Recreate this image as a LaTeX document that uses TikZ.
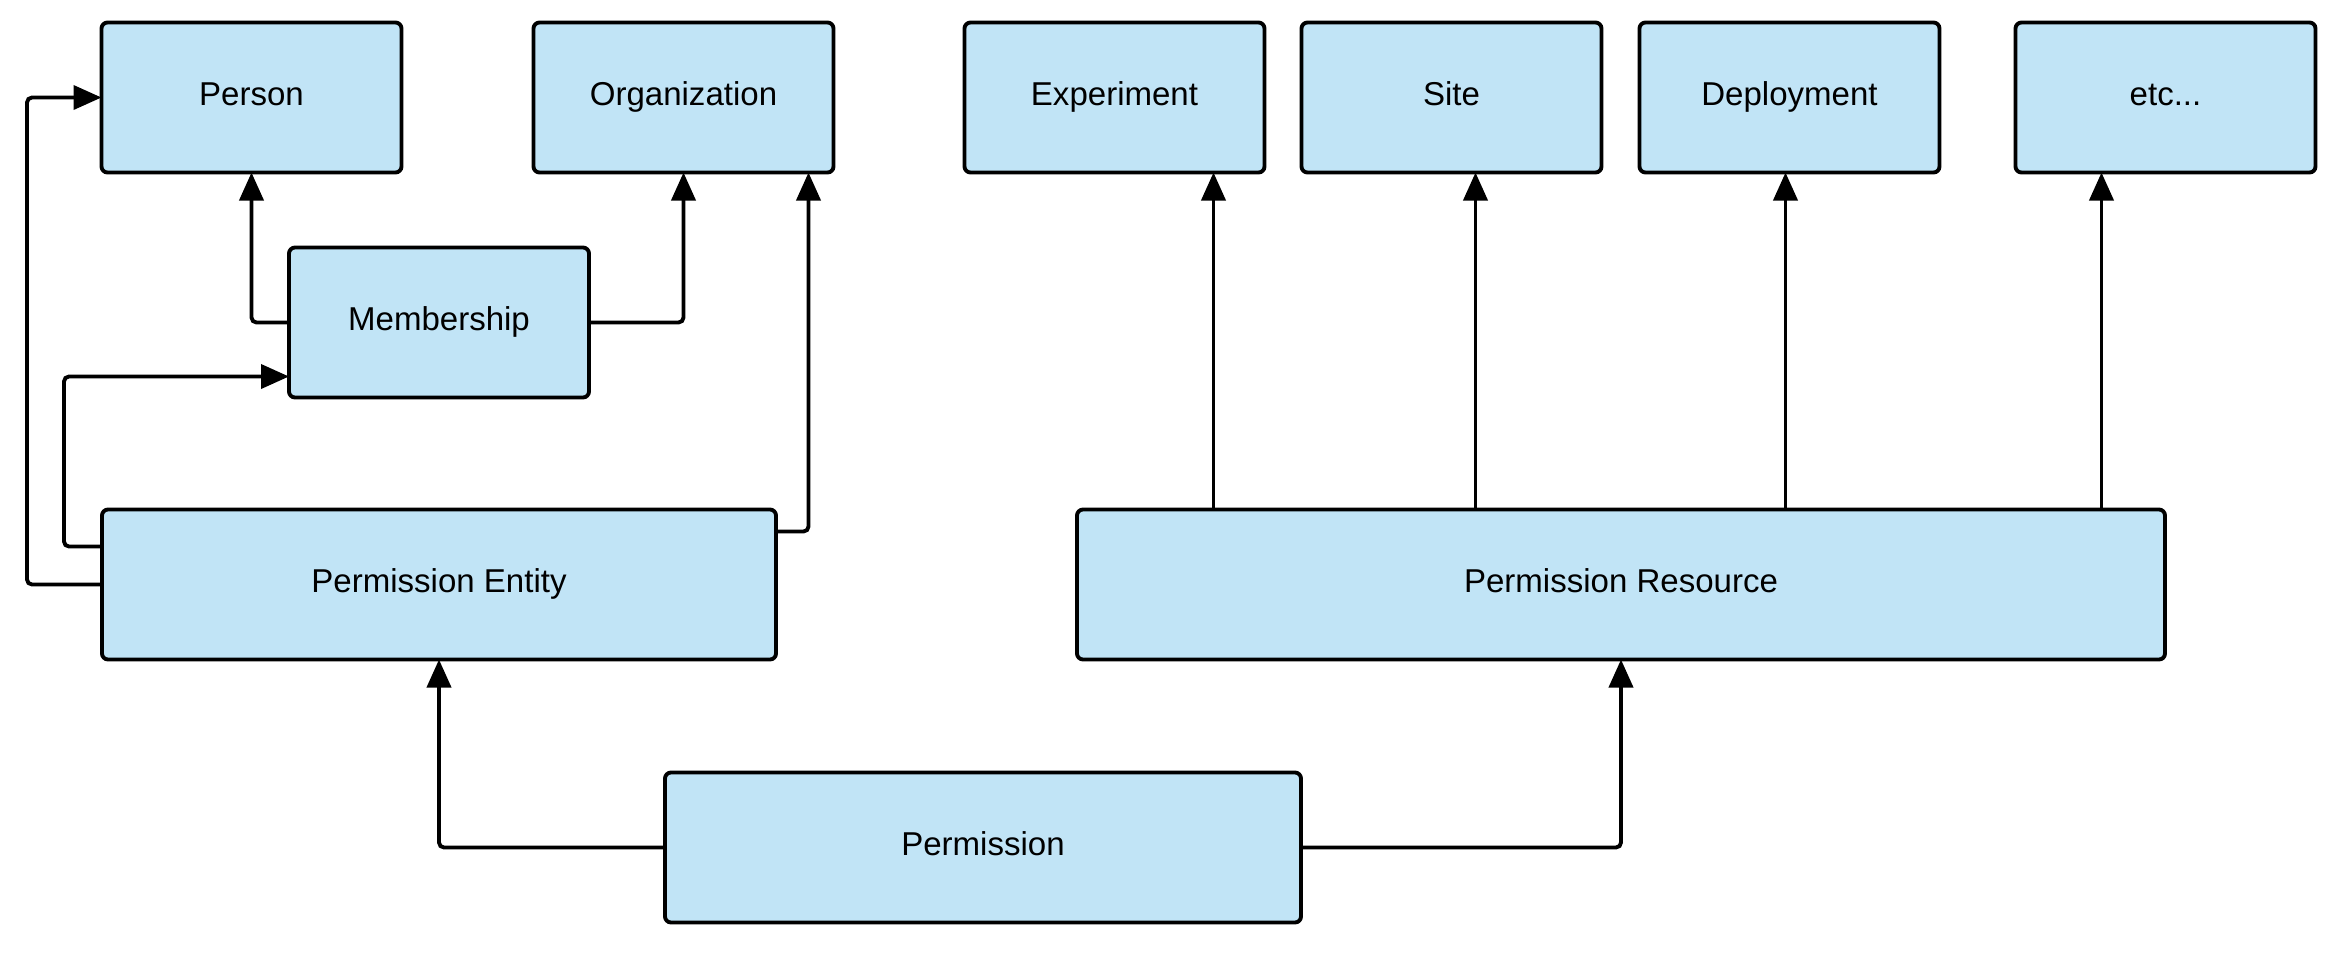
\documentclass[tikz,border=0pt]{standalone}
\usepackage{fontspec}
\setmainfont{Liberation Sans}
\usepackage{xcolor}
\usepackage{tikz}
\usetikzlibrary{positioning,calc,arrows.meta}

\definecolor{boxblue}{RGB}{193,228,246}

\begin{document}
\begin{tikzpicture}[auto, node distance=1.3cm,
    entbox/.style={draw, line width=1.1pt, fill=boxblue, rounded corners=0.6mm,
        minimum width=3cm, minimum height=1.5cm, inner sep=0pt, outer sep=0pt,
        text height=0.23cm, text depth=0.08cm,
        font=\fontsize{9.4}{11}\selectfont},
    arr/.style={draw, line width=1.1pt, rounded corners=0.5mm,
        -{Triangle[length=2.8mm,width=2.4mm]}}]
    \useasboundingbox (0,0) rectangle (23.4,-9.52);

    \node [entbox] (per) at (2.515,-0.975) {Person};
    \node [entbox, right=1.32cm of per] (org) {Organization};
    \node [entbox, right=1.31cm of org] (exp) {Experiment};
    \node [entbox, right=0.37cm of exp] (site) {Site};
    \node [entbox, right=0.38cm of site] (dep) {Deployment};
    \node [entbox, right=0.76cm of dep] (etc) {etc...};
    \node [entbox] (mem) at (4.39,-3.225) {Membership};
    \node [entbox, minimum width=6.74cm, below=1.12cm of mem] (ent) {Permission Entity};
    \node [entbox, minimum width=10.88cm, right=3.01cm of ent] (res) {Permission Resource};
    \node [entbox, minimum width=6.36cm] (perm) at (9.83,-8.475) {Permission};

    \draw [arr] (mem.west) -| (per.south);
    \draw [arr] (mem.east) -| (org.south);
    \draw [arr] ([yshift=-0.22cm]ent.north east) -| ([xshift=1.25cm]org.south);
    \draw [arr] ([yshift=-0.37cm]ent.north west) -- ++(-0.38,0) |- ([yshift=0.21cm]mem.south west);
    \draw [arr] (ent.west) -- ++(-0.75,0) |- (per.west);
    \draw [arr] (perm.west) -| (ent.south);
    \draw [arr] (perm.east) -| (res.south);

    % resource to the concrete things
    \foreach \b/\s in {exp/0.99, site/0.24, dep/-0.04, etc/-0.64}
        \draw [arr] ([xshift=\s cm]\b.south |- res.north) -- ([xshift=\s cm]\b.south);
\end{tikzpicture}
\end{document}
